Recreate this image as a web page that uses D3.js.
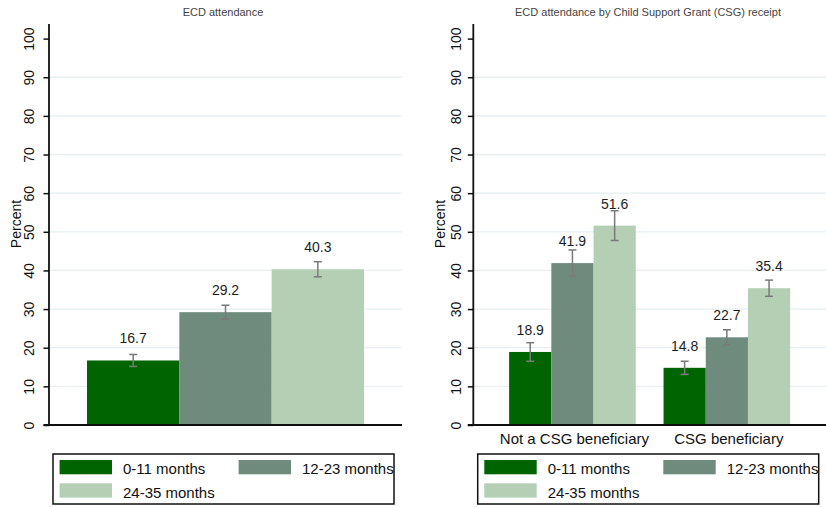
<!DOCTYPE html>
<html>
<head>
<meta charset="utf-8">
<script src="https://cdn.jsdelivr.net/npm/d3@7"></script>
<style>
  html, body { margin: 0; padding: 0; background: #fff; }
  svg { display: block; font-family: "Liberation Sans", Arial, sans-serif; }
</style>
</head>
<body>
<svg id="chart" width="826" height="507"></svg>
<script>
// Age bands (series)
const ageGroups = ["0-11 months", "12-23 months", "24-35 months"];
const ageColors = ["#006400", "#6e8b7e", "#b4cfb4"];

// Panel 1: ECD attendance overall, with 95% CI
const overallPct = [16.7, 29.2, 40.3];
const overallLo  = [15.15, 27.4, 38.35];
const overallHi  = [18.25, 31.0, 42.25];

// Panel 2: ECD attendance by CSG receipt, with 95% CI
const csgGroups = ["Not a CSG beneficiary", "CSG beneficiary"];
const notCsgPct = [18.9, 41.9, 51.6];
const notCsgLo  = [16.5, 38.5, 47.75];
const notCsgHi  = [21.3, 45.3, 55.45];
const csgPct    = [14.8, 22.7, 35.4];
const csgLo     = [13.1, 20.75, 33.3];
const csgHi     = [16.5, 24.65, 37.5];

const yTicks = [0, 10, 20, 30, 40, 50, 60, 70, 80, 90, 100];
const gridTicks = [10, 20, 30, 40, 50, 60, 70, 80, 90];

const svg = d3.select("#chart");
const color = d3.scaleOrdinal().domain(ageGroups).range(ageColors);
const y = d3.scaleLinear().domain([0, 100]).range([425, 38.6]);

function drawPanel(opt) {
  const g = svg.append("g");

  // title
  g.append("text")
    .attr("x", opt.titleX).attr("y", 16)
    .attr("text-anchor", "middle")
    .attr("font-size", 11).attr("fill", "#444")
    .text(opt.title);

  // horizontal grid
  g.selectAll(".grid").data(gridTicks).enter().append("line")
    .attr("x1", opt.x0).attr("x2", opt.x1)
    .attr("y1", d => y(d)).attr("y2", d => y(d))
    .attr("stroke", "#e6eff1").attr("stroke-width", 1.3);

  // bars
  const x0 = d3.scaleBand().domain(opt.groups).range([opt.x0, opt.x1])
    .paddingInner(opt.padInner).paddingOuter(opt.padOuter);
  const x1 = d3.scaleBand().domain(ageGroups).range([0, x0.bandwidth()]);

  const rows = [];
  opt.groups.forEach((grp, gi) => {
    ageGroups.forEach((age, ai) => {
      rows.push({ grp, age, v: opt.values[gi][ai], lo: opt.lo[gi][ai], hi: opt.hi[gi][ai] });
    });
  });

  g.selectAll(".bar").data(rows).enter().append("rect")
    .attr("x", d => x0(d.grp) + x1(d.age))
    .attr("width", x1.bandwidth())
    .attr("y", d => y(d.v))
    .attr("height", d => y(0) - y(d.v))
    .attr("fill", d => color(d.age));

  // confidence intervals
  const cx = d => x0(d.grp) + x1(d.age) + x1.bandwidth() / 2;
  const eb = g.selectAll(".err").data(rows).enter().append("g")
    .attr("stroke", "#7a7a7a").attr("stroke-width", 1.5);
  eb.append("line").attr("x1", cx).attr("x2", cx)
    .attr("y1", d => y(d.hi)).attr("y2", d => y(d.lo));
  eb.append("line").attr("x1", d => cx(d) - 4).attr("x2", d => cx(d) + 4)
    .attr("y1", d => y(d.hi)).attr("y2", d => y(d.hi));
  eb.append("line").attr("x1", d => cx(d) - 4).attr("x2", d => cx(d) + 4)
    .attr("y1", d => y(d.lo)).attr("y2", d => y(d.lo));

  // value labels
  g.selectAll(".lbl").data(rows).enter().append("text")
    .attr("x", cx)
    .attr("y", d => y(d.v) - 17)
    .attr("text-anchor", "middle")
    .attr("font-size", 14).attr("fill", "#1e1e1e")
    .text(d => d.v.toFixed(1));

  // y axis
  const axis = g.append("g")
    .attr("transform", `translate(${opt.x0},0)`)
    .call(d3.axisLeft(y).tickValues(yTicks).tickSize(5.5).tickSizeOuter(0));
  axis.select(".domain").attr("stroke", "#111").attr("stroke-width", 1.8)
    .attr("d", `M0,24V${y(0)}`);
  axis.selectAll(".tick line").attr("stroke", "#111").attr("stroke-width", 1.5);
  axis.selectAll(".tick text")
    .attr("transform", "rotate(-90)")
    .attr("x", 0).attr("y", -opt.tickGap).attr("dy", 0)
    .attr("text-anchor", "middle")
    .attr("font-size", 14).attr("fill", "#111")
    .attr("font-family", "Liberation Sans, Arial, sans-serif");

  // y title
  g.append("text")
    .attr("transform", `translate(${opt.x0 - 28.5},224) rotate(-90)`)
    .attr("text-anchor", "middle")
    .attr("font-size", 14).attr("fill", "#111")
    .text("Percent");

  // x baseline
  g.append("line")
    .attr("x1", opt.x0 - 5.5).attr("x2", opt.x1)
    .attr("y1", y(0)).attr("y2", y(0))
    .attr("stroke", "#111").attr("stroke-width", 1.8);

  // category labels
  if (opt.showCats) {
    g.selectAll(".cat").data(opt.groups).enter().append("text")
      .attr("x", d => x0(d) + x0.bandwidth() / 2 + 2)
      .attr("y", 444)
      .attr("text-anchor", "middle")
      .attr("font-size", 15).attr("fill", "#111")
      .text(d => d);
  }

  // legend
  const lg = g.append("g").attr("transform", `translate(${opt.legendX},454)`);
  lg.append("rect").attr("x", 0).attr("y", 0).attr("width", 341).attr("height", 50)
    .attr("fill", "#fff").attr("stroke", "#111").attr("stroke-width", 1.5);
  const pos = [[6.6, 6], [185.6, 6], [6.6, 29.3]];
  const items = lg.selectAll(".item").data(ageGroups).enter().append("g")
    .attr("transform", (d, i) => `translate(${pos[i][0]},${pos[i][1]})`);
  items.append("rect").attr("width", 52.4).attr("height", 14.3).attr("fill", d => color(d));
  items.append("text").attr("x", 63.4).attr("y", 14.3)
    .attr("font-size", 15).attr("fill", "#111").text(d => d);
}

drawPanel({
  title: "ECD attendance", titleX: 223,
  x0: 49, x1: 402,
  groups: ["All"], values: [overallPct], lo: [overallLo], hi: [overallHi],
  padInner: 0.18, padOuter: 0.1125,
  tickGap: 15.5, showCats: false, legendX: 53
});

drawPanel({
  title: "ECD attendance by Child Support Grant (CSG) receipt", titleX: 648,
  x0: 473.3, x1: 826,
  groups: csgGroups, values: [notCsgPct, csgPct], lo: [notCsgLo, csgLo], hi: [notCsgHi, csgHi],
  padInner: 0.18, padOuter: 0.232,
  tickGap: 12.8, showCats: true, legendX: 477.7
});
</script>
</body>
</html>
